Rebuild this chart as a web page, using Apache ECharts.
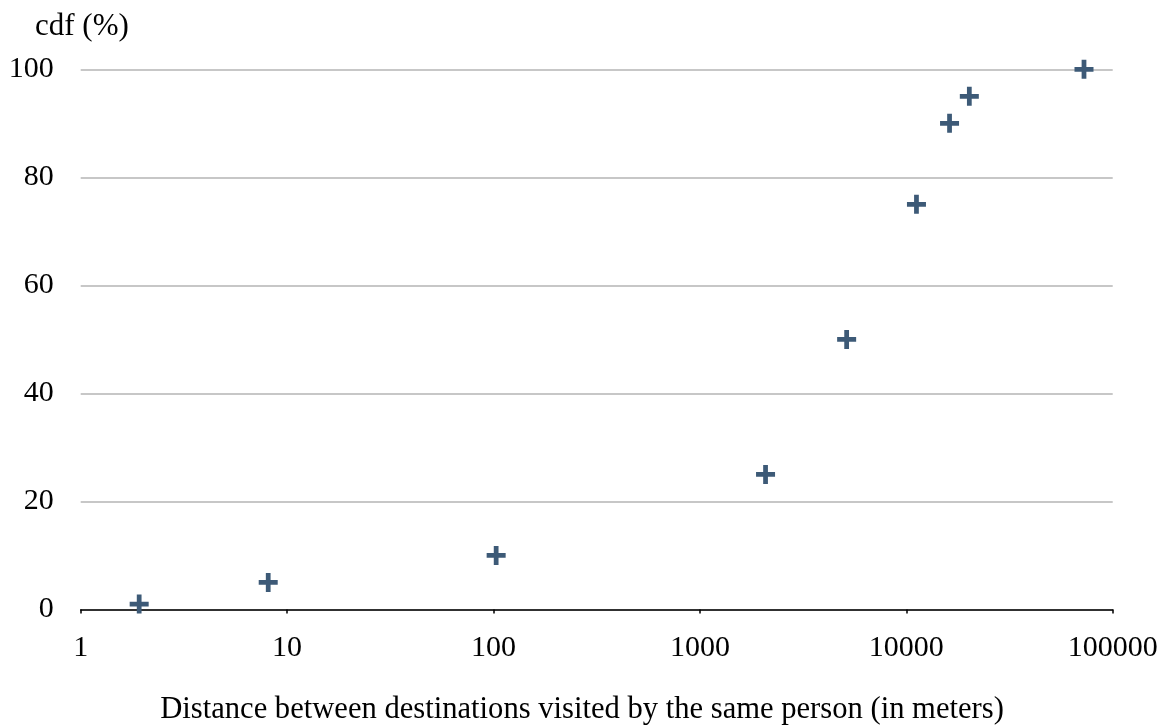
<!DOCTYPE html>
<html>
<head>
<meta charset="utf-8">
<script src="https://cdn.jsdelivr.net/npm/echarts@6/dist/echarts.min.js"></script>
<style>
html,body{margin:0;padding:0;background:#fff;}
#chart{width:1164px;height:728px;}
</style>
</head>
<body>
<div id="chart"></div>
<script>
// Data
var distances = [1.92, 8.1, 103, 2080, 5140, 11200, 16200, 20200, 72600];
var cdfValues = [1, 5, 10, 25, 50, 75, 90, 95, 100];
var xTitle = 'Distance between destinations visited by the same person (in meters)';
var yTitle = 'cdf (%)';

var points = distances.map(function (d, i) { return [d, cdfValues[i]]; });
var font = '"Liberation Serif", "Times New Roman", serif';

var chart = echarts.init(document.getElementById('chart'));
chart.setOption({
  backgroundColor: '#ffffff',
  animation: false,
  grid: { left: 80.7, right: 51.3, top: 69.3, bottom: 118.5 },
  xAxis: {
    type: 'log',
    logBase: 10,
    min: 1,
    max: 100000,
    axisLine: { show: true, lineStyle: { color: '#000', width: 1.5 } },
    axisTick: { show: true, length: 4, lineStyle: { color: '#000', width: 1.5 } },
    minorTick: { show: false },
    splitLine: { show: false },
    axisLabel: {
      color: '#000', fontFamily: font, fontSize: 30, margin: 24,
      formatter: function (v) { return String(Math.round(v)); }
    }
  },
  yAxis: {
    type: 'value',
    min: 0,
    max: 100,
    interval: 20,
    axisLine: { show: false },
    axisTick: { show: false },
    splitLine: { show: true, lineStyle: { color: '#b4b4b4', width: 1.5 } },
    axisLabel: { color: '#000', fontFamily: font, fontSize: 30, margin: 27 }
  },
  graphic: [
    { type: 'text', left: 35, top: 11, style: { text: yTitle, font: '31px ' + font, fill: '#000' } },
    { type: 'text', x: 582, y: 710, style: { text: xTitle, font: '30.6px ' + font, fill: '#000', textAlign: 'center', textVerticalAlign: 'middle' } }
  ],
  series: [{
    type: 'scatter',
    data: points,
    symbol: 'path://M7.5,0h5v7.5h7.5v5h-7.5v7.5h-5v-7.5h-7.5v-5h7.5z',
    symbolSize: 19,
    itemStyle: { color: '#3d5a77', opacity: 1 }
  }]
});
</script>
</body>
</html>
